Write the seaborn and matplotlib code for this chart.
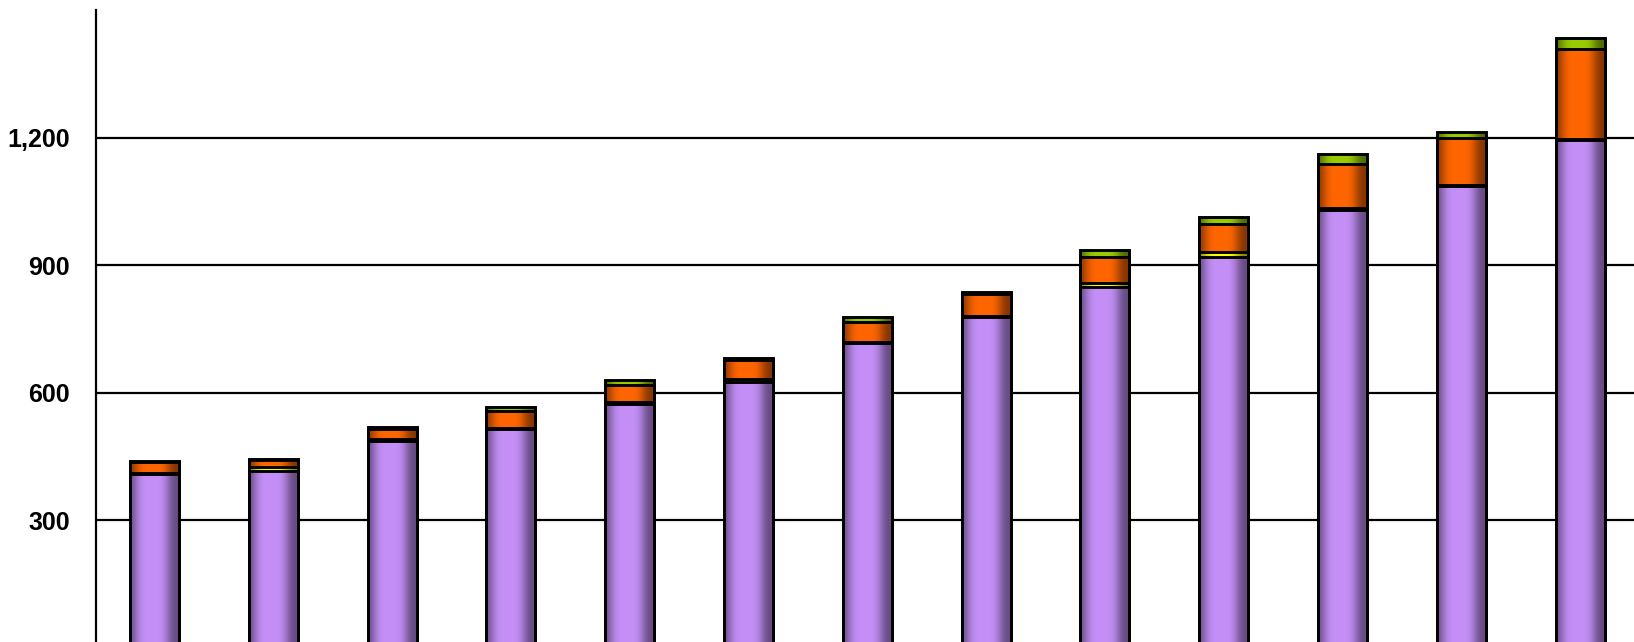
import numpy as np
import pandas as pd
import matplotlib
matplotlib.use("Agg")
import matplotlib.pyplot as plt
import seaborn as sns
from matplotlib.colors import to_rgb

# ---- data ----
categories = [f"C{i}" for i in range(1, 14)]
purple = [409, 415, 486, 514, 574, 624, 716, 777, 848, 920, 1030, 1085, 1194]
yellow = [3, 10, 5, 2, 4, 9, 4, 4, 11, 10, 4, 4, 3]
orange = [25, 16, 23, 41, 40, 45, 46, 52, 60, 66, 104, 110, 212]
green = [3, 4, 5, 10, 11, 3, 11, 3, 17, 16, 23, 15, 25]
y_ticks = [300, 600, 900, 1200]

series_names = ["purple", "yellow", "orange", "green"]
series_vals = [purple, yellow, orange, green]
series_colors = ["#C490F8", "#FFFF00", "#FF6600", "#99CC00"]

sns.set_theme(style="white")
plt.rcParams["font.family"] = ["Liberation Sans", "DejaVu Sans"]

fig = plt.figure(figsize=(16.34, 6.42), dpi=100)
ax = fig.add_axes([96 / 1634, 0.0, 1 - 96 / 1634, 1 - 10 / 642])

df = pd.DataFrame({"cat": categories})
cum = np.zeros(len(categories))
cums = []
for v in series_vals:
    cum = cum + np.array(v, dtype=float)
    cums.append(cum.copy())

def shade(color, n=256):
    base = np.array(to_rgb(color))
    t = np.linspace(0, 1, n)
    f = 0.52 + 0.48 * np.exp(-((t - 0.45) / 0.36) ** 4)
    img = np.clip(base[None, :] * f[:, None], 0, 1)
    return img[None, :, :]

# draw cumulative layers from the top series down
z = 2
for k in range(len(series_vals) - 1, -1, -1):
    df["val"] = cums[k]
    n_before = len(ax.patches)
    sns.barplot(data=df, x="cat", y="val", color=series_colors[k], width=0.412,
                edgecolor="black", linewidth=2.1, saturation=1, ax=ax)
    new_patches = ax.patches[n_before:]
    grad = shade(series_colors[k])
    for p in new_patches:
        x0, y0 = p.get_x(), p.get_y()
        w, h = p.get_width(), p.get_height()
        im = ax.imshow(grad, extent=[x0, x0 + w, y0, y0 + h], aspect="auto",
                       origin="lower", zorder=z, interpolation="bilinear")
        im.set_clip_path(p)
        p.set_facecolor("none")
        p.set_zorder(z + 0.5)
    z += 1

ax.set_xlim(-0.4924, 12.454)
ax.set_ylim(13.6, 1500)
ax.set_aspect("auto")
ax.set_xlabel("")
ax.set_ylabel("")
ax.set_xticks([])
ax.set_yticks(y_ticks)
ax.set_yticklabels([f"{t:,}" for t in y_ticks], fontsize=18, fontweight="bold")
ax.tick_params(axis="y", length=0, pad=19, colors="black")
ax.yaxis.grid(True, color="black", linewidth=1.6)
ax.xaxis.grid(False)
ax.set_axisbelow(True)
for s in ["top", "right", "bottom"]:
    ax.spines[s].set_visible(False)
ax.spines["left"].set_color("black")
ax.spines["left"].set_linewidth(1.6)
ax.set_facecolor("white")

fig.savefig("out.png", dpi=100, facecolor="white")
